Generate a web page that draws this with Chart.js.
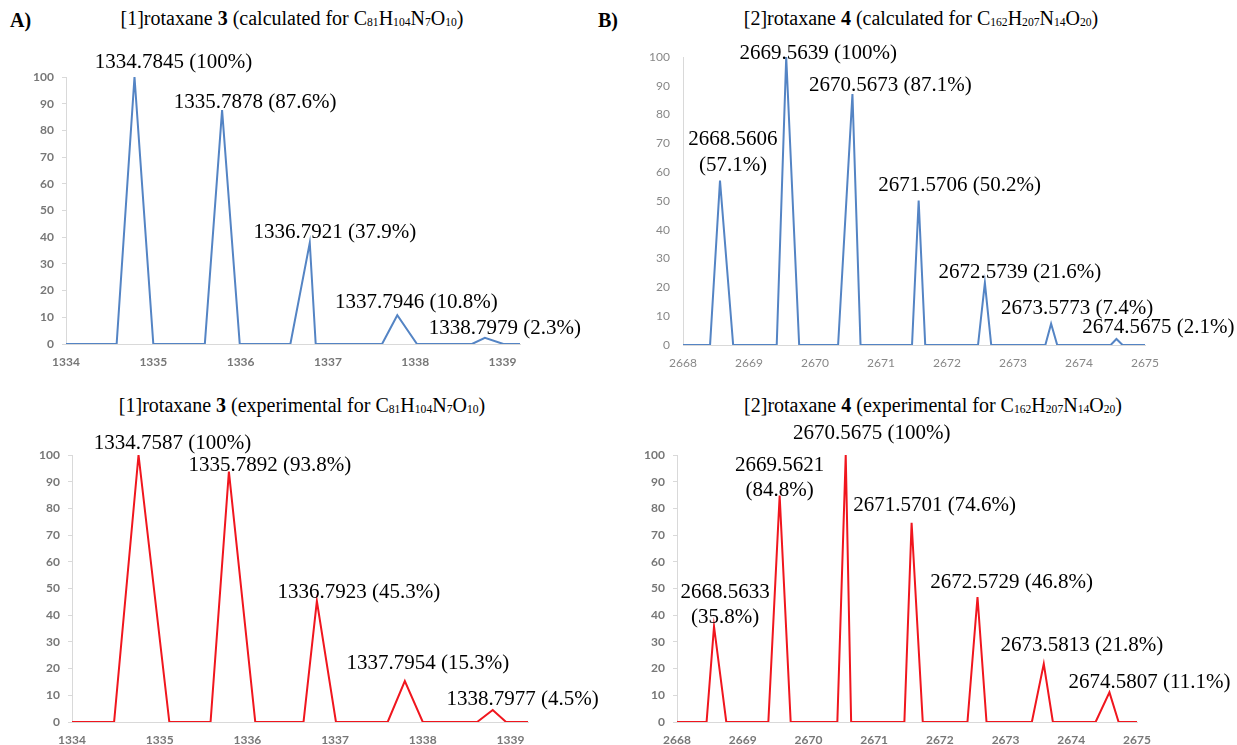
<!DOCTYPE html>
<html>
<head>
<meta charset="utf-8">
<script src="https://cdn.jsdelivr.net/npm/chart.js@4.4.0/dist/chart.umd.min.js"></script>
<style>
  body { margin: 0; background: #fff; width: 1237px; height: 745px; overflow: hidden; position: relative; font-family: "Liberation Serif", "Times New Roman", serif; color: #000; }
  canvas { position: absolute; }
  .title { position: absolute; font-size: 20px; line-height: 24px; white-space: nowrap; transform: translateX(-50%); }
  .title sub { font-size: 0.58em; vertical-align: baseline; position: relative; top: 0.12em; }
  .tag { position: absolute; font-weight: bold; font-size: 20px; line-height: 24px; }
</style>
</head>
<body>
<div class="tag" style="left:10px; top:8px">A)</div>
<div class="tag" style="left:598px; top:8px">B)</div>
<div class="title" style="left:292px; top:6px">[1]rotaxane <b>3</b> (calculated for C<sub>81</sub>H<sub>104</sub>N<sub>7</sub>O<sub>10</sub>)</div>
<div class="title" style="left:921px; top:6px">[2]rotaxane <b>4</b> (calculated for C<sub>162</sub>H<sub>207</sub>N<sub>14</sub>O<sub>20</sub>)</div>
<div class="title" style="left:302px; top:393px">[1]rotaxane <b>3</b> (experimental for C<sub>81</sub>H<sub>104</sub>N<sub>7</sub>O<sub>10</sub>)</div>
<div class="title" style="left:933px; top:393px">[2]rotaxane <b>4</b> (experimental for C<sub>162</sub>H<sub>207</sub>N<sub>14</sub>O<sub>20</sub>)</div>

<canvas id="calc3"></canvas>
<canvas id="calc4"></canvas>
<canvas id="exp3"></canvas>
<canvas id="exp4"></canvas>

<script>
// isotope peaks: apex m/z, relative intensity (%), and where each peak leaves / rejoins the baseline
const calc3Mz    = [1334.7845, 1335.7878, 1336.7921, 1337.7946, 1338.7979];
const calc3Pct   = [100, 87.6, 37.9, 10.8, 2.3];
const calc3Left  = [1334.58, 1335.59, 1336.57, 1337.62, 1338.65];
const calc3Right = [1335.00, 1335.99, 1336.86, 1338.02, 1339.01];

const calc4Mz    = [2668.5606, 2669.5639, 2670.5673, 2671.5706, 2672.5739, 2673.5773, 2674.5675];
const calc4Pct   = [57.1, 100, 87.1, 50.2, 21.6, 7.4, 2.1];
const calc4Left  = [2668.41, 2669.42, 2670.35, 2671.47, 2672.47, 2673.49, 2674.48];
const calc4Right = [2668.76, 2669.76, 2670.69, 2671.67, 2672.67, 2673.67, 2674.66];

const exp3Mz     = [1334.7587, 1335.7892, 1336.7923, 1337.7954, 1338.7977];
const exp3Pct    = [100, 93.8, 45.3, 15.3, 4.5];
const exp3Left   = [1334.48, 1335.58, 1336.64, 1337.60, 1338.62];
const exp3Right  = [1335.11, 1336.09, 1337.01, 1338.00, 1338.95];

const exp4Mz     = [2668.5633, 2669.5621, 2670.5675, 2671.5701, 2672.5729, 2673.5813, 2674.5807];
const exp4Pct    = [35.8, 84.8, 100, 74.6, 46.8, 21.8, 11.1];
const exp4Left   = [2668.45, 2669.39, 2670.44, 2671.46, 2672.42, 2673.40, 2674.37];
const exp4Right  = [2668.75, 2669.73, 2670.65, 2671.74, 2672.71, 2673.72, 2674.72];

const rotaxane3Range = [1334, 1339.2];
const rotaxane4Range = [2668, 2675];
const intensityTicks = [0, 100, 10]; // min, max, step

// label offsets from each apex (px); three entries = mass and percentage on two lines
const calc3Offsets = [[39, -15], [33, -8], [25, -10], [19, -13], [20, -9]];
const calc4Offsets = [[13, -41, -15], [32, -4], [38, -9], [41, -15], [35, -10], [26, -15], [42, -11]];
const exp3Offsets  = [[34, -12], [41, -6], [42, -9], [23, -18], [30, -11]];
const exp4Offsets  = [[11, -34, -9], [0, -30, -5], [26, -22], [23, -17], [34, -15], [38, -18], [40, -10]];

function profile(range, left, apex, right, pct) {
  const pts = [{ x: range[0], y: 0 }];
  apex.forEach((m, i) => {
    pts.push({ x: left[i], y: 0 }, { x: m, y: pct[i] }, { x: right[i], y: 0 });
  });
  pts.push({ x: range[1], y: 0 });
  return pts;
}

function peakLabels(mz, pct, offsets) {
  return {
    id: 'peakLabels',
    afterDatasetsDraw(chart) {
      const { ctx, scales: { x, y } } = chart;
      ctx.save();
      ctx.font = '21px "Liberation Serif", "Times New Roman", serif';
      ctx.fillStyle = '#000';
      ctx.textAlign = 'center';
      ctx.textBaseline = 'middle';
      mz.forEach((m, i) => {
        const px = x.getPixelForValue(m);
        const py = y.getPixelForValue(pct[i]);
        const off = offsets[i];
        const mass = m.toFixed(4);
        const share = '(' + pct[i] + '%)';
        if (off.length === 3) {
          ctx.fillText(mass, px + off[0], py + off[1]);
          ctx.fillText(share, px + off[0], py + off[2]);
        } else {
          ctx.fillText(mass + ' ' + share, px + off[0], py + off[1]);
        }
      });
      ctx.restore();
    }
  };
}

const Y_AXIS_W = 50;
const X_AXIS_H = 30;

function drawSpectrum(cfg) {
  const canvas = document.getElementById(cfg.id);
  const [cl, ct, cw, ch] = cfg.canvas;
  const [pl, pt, pr, pb] = cfg.plot;
  canvas.width = cw;
  canvas.height = ch;
  canvas.style.left = cl + 'px';
  canvas.style.top = ct + 'px';

  new Chart(canvas, {
    type: 'scatter',
    data: {
      datasets: [{
        data: cfg.points,
        showLine: true,
        borderColor: cfg.color,
        borderWidth: 2,
        pointRadius: 0,
        tension: 0
      }]
    },
    options: {
      responsive: false,
      animation: false,
      events: [],
      layout: {
        padding: { left: pl - cl - Y_AXIS_W, top: pt - ct, right: cl + cw - pr, bottom: ct + ch - pb - X_AXIS_H }
      },
      plugins: { legend: { display: false }, tooltip: { enabled: false } },
      scales: {
        x: {
          type: 'linear',
          min: cfg.range[0],
          max: cfg.range[1],
          afterFit: s => { s.height = X_AXIS_H; },
          grid: { drawOnChartArea: false, drawTicks: false },
          border: { color: '#d9d9d9', width: 1 },
          ticks: {
            stepSize: 1, includeBounds: false, padding: 11, maxRotation: 0,
            color: cfg.tickColor, font: cfg.tickFont,
            callback: v => String(v)
          }
        },
        y: {
          min: intensityTicks[0],
          max: intensityTicks[1],
          afterFit: s => { s.width = Y_AXIS_W; },
          grid: { drawOnChartArea: false, drawTicks: cfg.yTickMarks, tickLength: 4, color: '#d9d9d9' },
          border: { color: '#d9d9d9', width: 1 },
          ticks: {
            stepSize: intensityTicks[2],
            padding: cfg.yTickMarks ? 8 : 13,
            color: cfg.tickColor, font: cfg.tickFont
          }
        }
      }
    },
    plugins: [peakLabels(cfg.mz, cfg.pct, cfg.offsets)]
  });
}

const BLUE = '#5484c4';
const RED = '#f0161e';
const boldTicks = { family: 'Lato', size: 12, weight: 'bold' };
const plainTicks = { family: 'Lato', size: 12, weight: 'normal' };

drawSpectrum({
  id: 'calc3', canvas: [0, 30, 610, 360], plot: [66, 77, 520, 344],
  range: rotaxane3Range, color: BLUE, tickColor: '#777777', tickFont: boldTicks, yTickMarks: true,
  points: profile(rotaxane3Range, calc3Left, calc3Mz, calc3Right, calc3Pct),
  mz: calc3Mz, pct: calc3Pct, offsets: calc3Offsets
});

drawSpectrum({
  id: 'calc4', canvas: [610, 30, 627, 360], plot: [683, 57, 1145, 345],
  range: rotaxane4Range, color: BLUE, tickColor: '#888888', tickFont: plainTicks, yTickMarks: false,
  points: profile(rotaxane4Range, calc4Left, calc4Mz, calc4Right, calc4Pct),
  mz: calc4Mz, pct: calc4Pct, offsets: calc4Offsets
});

drawSpectrum({
  id: 'exp3', canvas: [0, 415, 610, 340], plot: [72, 455, 528, 722],
  range: rotaxane3Range, color: RED, tickColor: '#777777', tickFont: boldTicks, yTickMarks: true,
  points: profile(rotaxane3Range, exp3Left, exp3Mz, exp3Right, exp3Pct),
  mz: exp3Mz, pct: exp3Pct, offsets: exp3Offsets
});

drawSpectrum({
  id: 'exp4', canvas: [610, 415, 627, 340], plot: [677, 455, 1137, 722],
  range: rotaxane4Range, color: RED, tickColor: '#777777', tickFont: boldTicks, yTickMarks: true,
  points: profile(rotaxane4Range, exp4Left, exp4Mz, exp4Right, exp4Pct),
  mz: exp4Mz, pct: exp4Pct, offsets: exp4Offsets
});
</script>
</body>
</html>
